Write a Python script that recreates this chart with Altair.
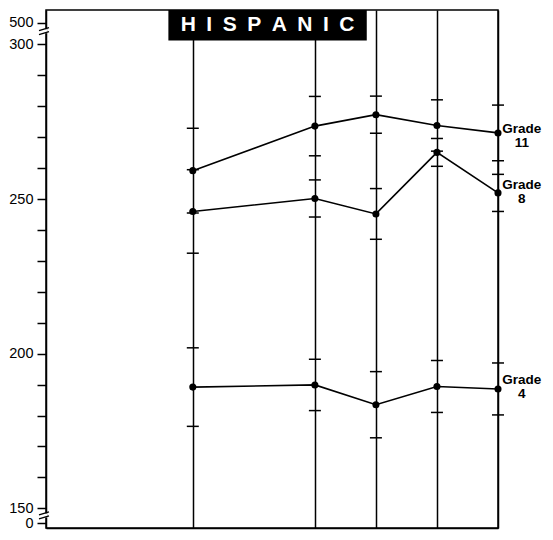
import altair as alt
import pandas as pd

# ---- data ----
years = [1984, 1988, 1990, 1992, 1994]
grade11 = [259.2, 273.6, 277.3, 273.8, 271.4]
grade11_hw = [13.7, 9.6, 6.0, 8.3, 9.0]
grade8 = [246.0, 250.2, 245.2, 265.1, 252.0]
grade8_hw = [13.5, 6.0, 8.2, 4.5, 6.0]
grade4 = [189.2, 189.9, 183.5, 189.4, 188.6]
grade4_hw = [12.7, 8.3, 10.7, 8.4, 8.4]

series_names = ["Grade 11", "Grade 8", "Grade 4"]
series_vals = [grade11, grade8, grade4]
series_hw = [grade11_hw, grade8_hw, grade4_hw]

label_texts = [["Grade", "11"], ["Grade", "8"], ["Grade", "4"]]
label_year = 1994.78
label_top = [274.8, 256.7, 193.6]

y_minor = list(range(150, 301, 10))
y_zero_pos = 145.2   # where the "0" of the broken scale sits
y_500_pos = 307.0    # where the "500" of the broken scale sits
breaks = [304.3, 147.7]

x_domain = [1979.19, 1994]
y_domain = [143.63, 311.15]

title_text = "\u2002".join("HISPANIC")
title_box = dict(x=1983.2, x2=1989.7, y=301.3, y2=311.15)

FONT = "Liberation Sans, Arial, sans-serif"
W, H = 452, 518

rows = []
for name, vals, hws in zip(series_names, series_vals, series_hw):
    for yr, v, hw in zip(years, vals, hws):
        rows.append({"series": name, "year": yr, "score": v, "lo": v - hw, "hi": v + hw})
df = pd.DataFrame(rows)
ticks_df = pd.concat([
    df[["series", "year", "lo"]].rename(columns={"lo": "v"}),
    df[["series", "year", "hi"]].rename(columns={"hi": "v"}),
])

xs = alt.Scale(domain=x_domain, nice=False, zero=False)
ys = alt.Scale(domain=y_domain, nice=False, zero=False)

tick_vals = [y_zero_pos] + y_minor + [y_500_pos]
label_expr = ("datum.value < 147 ? '0' : datum.value > 305 ? '500' : "
              "(datum.value % 50 == 0 ? format(datum.value, 'd') : '')")

x_axis = alt.Axis(
    values=years, grid=True, gridColor="black", gridOpacity=1, gridWidth=1.5,
    labels=False, ticks=False, domain=True, domainColor="black", domainWidth=1.5,
    title=None)
y_axis = alt.Axis(
    values=tick_vals, labelExpr=label_expr, labelOverlap=False, grid=False,
    tickSize=9, tickWidth=1.5, tickColor="black", domainColor="black",
    domainWidth=1.5, labelPadding=4, labelFont=FONT, labelFontSize=14.5,
    labelColor="black", title=None)


def X(field):
    return alt.X(field, type="quantitative", scale=xs, axis=x_axis)


def Y(field):
    return alt.Y(field, type="quantitative", scale=ys, axis=y_axis)


base = alt.Chart(df)

lines = base.mark_line(color="black", strokeWidth=1.6).encode(
    x=X("year"), y=Y("score"), detail="series:N")

points = base.mark_circle(color="black", opacity=1, size=50).encode(
    x=X("year"), y=Y("score"))

se_ticks = alt.Chart(ticks_df).mark_tick(
    color="black", orient="horizontal", size=12, thickness=1.5, opacity=1).encode(
    x=X("year"), y=Y("v"))

lab_rows = [{"year": label_year, "v": t, "text": txt}
            for t, txt in zip(label_top, label_texts)]
labels = alt.Chart(pd.DataFrame(lab_rows)).mark_text(
    font=FONT, fontSize=13.5, fontWeight="bold", align="center", baseline="top",
    lineHeight=14, color="black").encode(x=X("year"), y=Y("v"), text="text")

tbox = alt.Chart(pd.DataFrame([title_box])).mark_rect(color="black").encode(
    x=X("x"), x2="x2", y=Y("y"), y2="y2")
ttext = alt.Chart(pd.DataFrame([{
    "x": (title_box["x"] + title_box["x2"]) / 2,
    "y": (title_box["y"] + title_box["y2"]) / 2,
    "t": title_text}])).mark_text(
    font=FONT, fontSize=21, fontWeight="bold", color="white",
    align="center", baseline="middle").encode(x=X("x"), y=Y("y"), text="t")

# axis break marks
px_x = (x_domain[1] - x_domain[0]) / W
px_y = (y_domain[1] - y_domain[0]) / H
brk_rows = []
gap_rows = []
for b in breaks:
    for off in (-2.0, 2.0):
        brk_rows.append({"x": x_domain[0] - 7 * px_x, "x2": x_domain[0] + 3 * px_x,
                         "y": b + (off - 1.5) * px_y, "y2": b + (off + 1.5) * px_y})
    gap_rows.append({"x": x_domain[0], "y": b - 2 * px_y, "y2": b + 2 * px_y})
gaps = alt.Chart(pd.DataFrame(gap_rows)).mark_rule(color="white", strokeWidth=3).encode(
    x=X("x"), y=Y("y"), y2="y2")
brks = alt.Chart(pd.DataFrame(brk_rows)).mark_rule(color="black", strokeWidth=1.3).encode(
    x=X("x"), x2="x2", y=Y("y"), y2="y2")

chart = alt.layer(lines, se_ticks, points, labels, tbox, ttext, gaps, brks).properties(
    width=W, height=H,
    autosize=alt.AutoSizeParams(type="none"),
    padding={"left": 38, "top": 2, "right": 47, "bottom": 4},
).configure(background="white").configure_view(
    stroke="black", strokeWidth=1.5).configure_axis(labelOverlap=False)

chart.save("out.html", embed_options={"renderer": "svg", "actions": False})
